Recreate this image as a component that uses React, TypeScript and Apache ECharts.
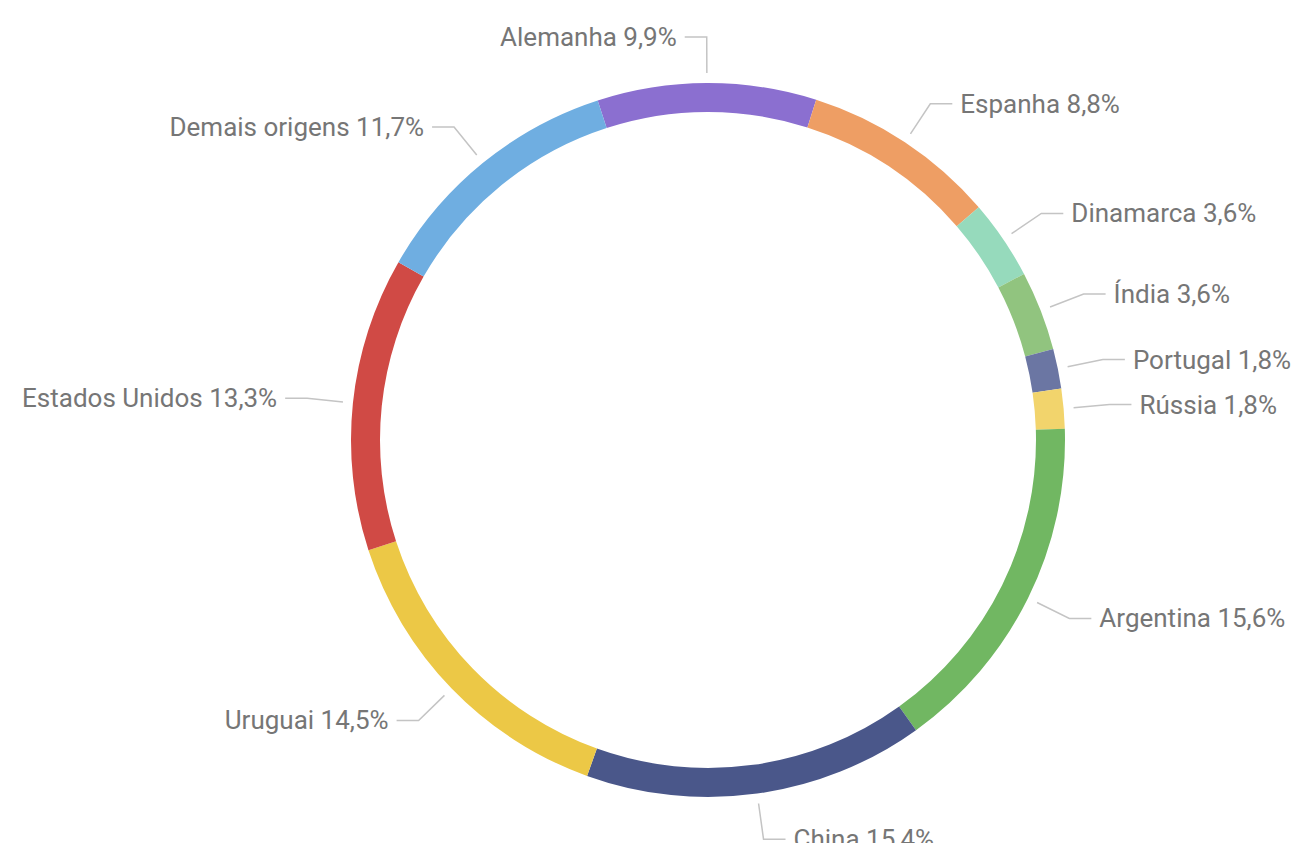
import React, { useEffect, useRef } from "react";
import * as echarts from "echarts";

const categories = [
  "Alemanha",
  "Espanha",
  "Dinamarca",
  "Índia",
  "Portugal",
  "Rússia",
  "Argentina",
  "China",
  "Uruguai",
  "Estados Unidos",
  "Demais origens",
];
const shares = [9.9, 8.8, 3.6, 3.6, 1.8, 1.8, 15.6, 15.4, 14.5, 13.3, 11.7];
const colors = [
  "#8B6FD0",
  "#EE9E64",
  "#96DABC",
  "#91C47F",
  "#6B76A3",
  "#F2D46C",
  "#71B762",
  "#4A578A",
  "#ECC846",
  "#D04A45",
  "#6FAEE1",
];

export default function App() {
  const ref = useRef<HTMLDivElement>(null);
  useEffect(() => {
    if (!ref.current) return;
    const chart = echarts.init(ref.current, null, { renderer: "svg" });
    const ringData = categories.map((name, i) => ({
      name,
      value: shares[i],
      itemStyle: { color: colors[i] },
    }));
    const labelData = categories.map((name, i) => ({
      name,
      value: shares[i],
    }));
    chart.setOption({
      animation: false,
      backgroundColor: "#ffffff",
      series: [
        {
          type: "pie",
          center: [708, 440],
          radius: [328, 357],
          startAngle: 108,
          clockwise: true,
          silent: true,
          label: { show: false },
          labelLine: { show: false },
          emphasis: { disabled: true },
          data: ringData,
        },
        {
          type: "pie",
          center: [708, 440],
          radius: [357, 367],
          startAngle: 108,
          clockwise: true,
          silent: true,
          avoidLabelOverlap: false,
          itemStyle: { color: "rgba(0,0,0,0)" },
          emphasis: { disabled: true },
          label: {
            show: true,
            position: "outside",
            color: "#767676",
            fontFamily: "Roboto",
            fontSize: 26,
            overflow: "none",
            distanceToLabelLine: 8,
            formatter: (p: any) =>
              `${p.name} ${Number(p.value).toFixed(1).replace(".", ",")}%`,
          },
          labelLine: {
            show: true,
            length: 36,
            length2: 22,
            lineStyle: { color: "#c4c4c4", width: 1.5 },
          },
          data: labelData,
        },
      ],
    });
    return () => chart.dispose();
  }, []);
  return (
    <div
      ref={ref}
      style={{ position: "fixed", left: 0, top: 0, width: 1294, height: 843 }}
    />
  );
}
